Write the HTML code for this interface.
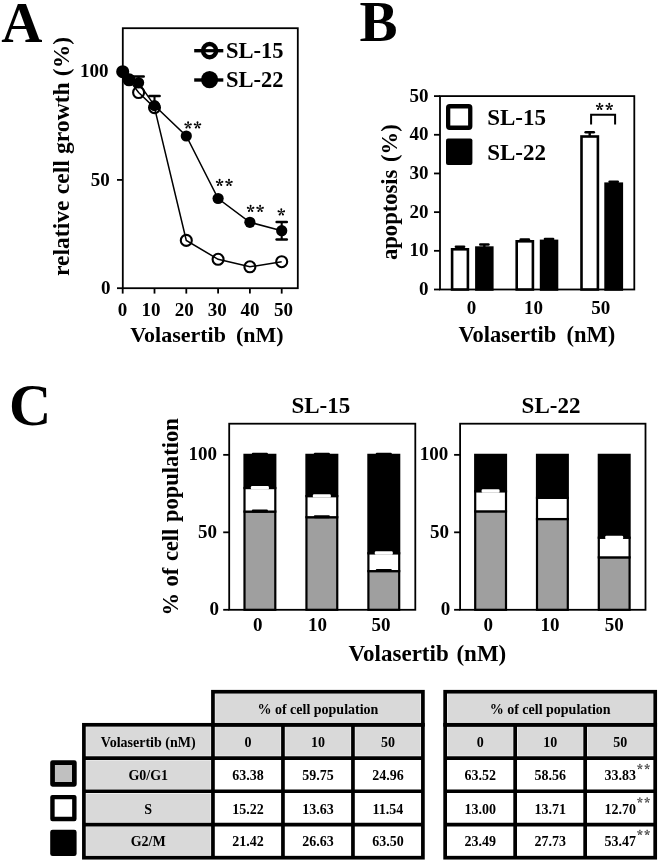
<!DOCTYPE html>
<html><head><meta charset="utf-8"><style>
html,body{margin:0;padding:0;background:#fff;overflow:hidden;}
svg{display:block;font-family:"Liberation Serif", serif;will-change:transform;}
</style></head><body>
<svg width="660" height="866" viewBox="0 0 660 866" font-family='"Liberation Serif", serif'>
<rect width="660" height="866" fill="#fff"/>
<text x="1.2" y="41.6" font-size="57" text-anchor="start" font-weight="bold" >A</text>
<rect x="122.8" y="28.2" width="175.0" height="260.0" fill="none" stroke="#000" stroke-width="1.8" rx="0" />
<line x1="117" y1="288.2" x2="122.8" y2="288.2" stroke="#000" stroke-width="1.8"/>
<text x="110.4" y="293.8" font-size="19" text-anchor="end" font-weight="bold" >0</text>
<line x1="117" y1="179.90" x2="122.8" y2="179.90" stroke="#000" stroke-width="1.8"/>
<text x="109.7" y="185.50" font-size="19" text-anchor="end" font-weight="bold" >50</text>
<line x1="117" y1="71.6" x2="122.8" y2="71.6" stroke="#000" stroke-width="1.8"/>
<text x="108.6" y="77.20" font-size="19" text-anchor="end" font-weight="bold" >100</text>
<line x1="122.7" y1="288.2" x2="122.7" y2="293.6" stroke="#000" stroke-width="1.8"/>
<text x="122.6" y="315.6" font-size="19" text-anchor="middle" font-weight="bold" >0</text>
<line x1="154.5" y1="288.2" x2="154.5" y2="293.6" stroke="#000" stroke-width="1.8"/>
<text x="151.1" y="315.6" font-size="19" text-anchor="middle" font-weight="bold" >10</text>
<line x1="186.3" y1="288.2" x2="186.3" y2="293.6" stroke="#000" stroke-width="1.8"/>
<text x="184.2" y="315.6" font-size="19" text-anchor="middle" font-weight="bold" >20</text>
<line x1="218.10" y1="288.2" x2="218.10" y2="293.6" stroke="#000" stroke-width="1.8"/>
<text x="217.2" y="315.6" font-size="19" text-anchor="middle" font-weight="bold" >30</text>
<line x1="249.9" y1="288.2" x2="249.9" y2="293.6" stroke="#000" stroke-width="1.8"/>
<text x="249.9" y="315.6" font-size="19" text-anchor="middle" font-weight="bold" >40</text>
<line x1="281.7" y1="288.2" x2="281.7" y2="293.6" stroke="#000" stroke-width="1.8"/>
<text x="283.6" y="315.6" font-size="19" text-anchor="middle" font-weight="bold" >50</text>
<text x="130.2" y="341.5" font-size="22" text-anchor="start" font-weight="bold" word-spacing="4.5">Volasertib (nM)</text>
<text x="68.7" y="276" font-size="23.6" text-anchor="start" font-weight="bold" transform="rotate(-90 68.7 276)" word-spacing="0.3">relative cell growth (%)</text>
<line x1="138.6" y1="76.4" x2="138.6" y2="82.8" stroke="#000" stroke-width="2.1"/>
<line x1="133.50" y1="76.4" x2="143.70" y2="76.4" stroke="#000" stroke-width="2.5" stroke-linecap="round"/>
<line x1="154.5" y1="95.9" x2="154.5" y2="105.6" stroke="#000" stroke-width="2.1"/>
<line x1="149.40" y1="95.9" x2="159.60" y2="95.9" stroke="#000" stroke-width="2.5" stroke-linecap="round"/>
<line x1="281.7" y1="222.0" x2="281.7" y2="239.4" stroke="#000" stroke-width="2.1"/>
<line x1="276.60" y1="222.0" x2="286.80" y2="222.0" stroke="#000" stroke-width="2.5" stroke-linecap="round"/>
<line x1="276.60" y1="239.4" x2="286.80" y2="239.4" stroke="#000" stroke-width="2.5" stroke-linecap="round"/>
<circle cx="122.7" cy="71.7" r="5.5" fill="#fff" stroke="#000" stroke-width="2.1"/>
<circle cx="129.06" cy="79.8" r="5.5" fill="#fff" stroke="#000" stroke-width="2.1"/>
<circle cx="138.6" cy="92.5" r="5.5" fill="#fff" stroke="#000" stroke-width="2.1"/>
<circle cx="154.5" cy="107.6" r="5.5" fill="#fff" stroke="#000" stroke-width="2.1"/>
<circle cx="186.3" cy="240.4" r="5.5" fill="#fff" stroke="#000" stroke-width="2.1"/>
<circle cx="218.10" cy="259.3" r="5.5" fill="#fff" stroke="#000" stroke-width="2.1"/>
<circle cx="249.9" cy="266.8" r="5.5" fill="#fff" stroke="#000" stroke-width="2.1"/>
<circle cx="281.7" cy="261.7" r="5.5" fill="#fff" stroke="#000" stroke-width="2.1"/>
<polyline points="122.70,71.7 129.06,79.8 138.60,92.5 154.50,107.6 186.30,240.4 218.10,259.3 249.90,266.8 281.70,261.7" fill="none" stroke="#000" stroke-width="1.5"/>
<polyline points="122.70,71.7 129.06,79.8 138.60,82.8 154.50,105.6 186.30,136.0 218.10,198.5 249.90,222.3 281.70,230.7" fill="none" stroke="#000" stroke-width="1.5"/>
<circle cx="122.7" cy="71.7" r="5.6" fill="#000" stroke="none" stroke-width="0"/>
<circle cx="129.06" cy="79.8" r="5.6" fill="#000" stroke="none" stroke-width="0"/>
<circle cx="138.6" cy="82.8" r="5.6" fill="#000" stroke="none" stroke-width="0"/>
<circle cx="154.5" cy="105.6" r="5.6" fill="#000" stroke="none" stroke-width="0"/>
<circle cx="186.3" cy="136.0" r="5.6" fill="#000" stroke="none" stroke-width="0"/>
<circle cx="218.10" cy="198.5" r="5.6" fill="#000" stroke="none" stroke-width="0"/>
<circle cx="249.9" cy="222.3" r="5.6" fill="#000" stroke="none" stroke-width="0"/>
<circle cx="281.7" cy="230.7" r="5.6" fill="#000" stroke="none" stroke-width="0"/>
<g transform="translate(188.1,125.2) scale(1.1)" fill="#000"><path d="M-0.22,0 L-0.72,-2.05 A0.92,0.92 0 1 1 0.72,-2.05 L0.22,0 Z" transform="rotate(0)"/><path d="M-0.22,0 L-0.72,-2.05 A0.92,0.92 0 1 1 0.72,-2.05 L0.22,0 Z" transform="rotate(72)"/><path d="M-0.22,0 L-0.72,-2.05 A0.92,0.92 0 1 1 0.72,-2.05 L0.22,0 Z" transform="rotate(144)"/><path d="M-0.22,0 L-0.72,-2.05 A0.92,0.92 0 1 1 0.72,-2.05 L0.22,0 Z" transform="rotate(216)"/><path d="M-0.22,0 L-0.72,-2.05 A0.92,0.92 0 1 1 0.72,-2.05 L0.22,0 Z" transform="rotate(288)"/></g>
<g transform="translate(197.5,125.2) scale(1.1)" fill="#000"><path d="M-0.22,0 L-0.72,-2.05 A0.92,0.92 0 1 1 0.72,-2.05 L0.22,0 Z" transform="rotate(0)"/><path d="M-0.22,0 L-0.72,-2.05 A0.92,0.92 0 1 1 0.72,-2.05 L0.22,0 Z" transform="rotate(72)"/><path d="M-0.22,0 L-0.72,-2.05 A0.92,0.92 0 1 1 0.72,-2.05 L0.22,0 Z" transform="rotate(144)"/><path d="M-0.22,0 L-0.72,-2.05 A0.92,0.92 0 1 1 0.72,-2.05 L0.22,0 Z" transform="rotate(216)"/><path d="M-0.22,0 L-0.72,-2.05 A0.92,0.92 0 1 1 0.72,-2.05 L0.22,0 Z" transform="rotate(288)"/></g>
<g transform="translate(219.6,182.7) scale(1.1)" fill="#000"><path d="M-0.22,0 L-0.72,-2.05 A0.92,0.92 0 1 1 0.72,-2.05 L0.22,0 Z" transform="rotate(0)"/><path d="M-0.22,0 L-0.72,-2.05 A0.92,0.92 0 1 1 0.72,-2.05 L0.22,0 Z" transform="rotate(72)"/><path d="M-0.22,0 L-0.72,-2.05 A0.92,0.92 0 1 1 0.72,-2.05 L0.22,0 Z" transform="rotate(144)"/><path d="M-0.22,0 L-0.72,-2.05 A0.92,0.92 0 1 1 0.72,-2.05 L0.22,0 Z" transform="rotate(216)"/><path d="M-0.22,0 L-0.72,-2.05 A0.92,0.92 0 1 1 0.72,-2.05 L0.22,0 Z" transform="rotate(288)"/></g>
<g transform="translate(229.0,182.7) scale(1.1)" fill="#000"><path d="M-0.22,0 L-0.72,-2.05 A0.92,0.92 0 1 1 0.72,-2.05 L0.22,0 Z" transform="rotate(0)"/><path d="M-0.22,0 L-0.72,-2.05 A0.92,0.92 0 1 1 0.72,-2.05 L0.22,0 Z" transform="rotate(72)"/><path d="M-0.22,0 L-0.72,-2.05 A0.92,0.92 0 1 1 0.72,-2.05 L0.22,0 Z" transform="rotate(144)"/><path d="M-0.22,0 L-0.72,-2.05 A0.92,0.92 0 1 1 0.72,-2.05 L0.22,0 Z" transform="rotate(216)"/><path d="M-0.22,0 L-0.72,-2.05 A0.92,0.92 0 1 1 0.72,-2.05 L0.22,0 Z" transform="rotate(288)"/></g>
<g transform="translate(250.6,208.6) scale(1.1)" fill="#000"><path d="M-0.22,0 L-0.72,-2.05 A0.92,0.92 0 1 1 0.72,-2.05 L0.22,0 Z" transform="rotate(0)"/><path d="M-0.22,0 L-0.72,-2.05 A0.92,0.92 0 1 1 0.72,-2.05 L0.22,0 Z" transform="rotate(72)"/><path d="M-0.22,0 L-0.72,-2.05 A0.92,0.92 0 1 1 0.72,-2.05 L0.22,0 Z" transform="rotate(144)"/><path d="M-0.22,0 L-0.72,-2.05 A0.92,0.92 0 1 1 0.72,-2.05 L0.22,0 Z" transform="rotate(216)"/><path d="M-0.22,0 L-0.72,-2.05 A0.92,0.92 0 1 1 0.72,-2.05 L0.22,0 Z" transform="rotate(288)"/></g>
<g transform="translate(260.1,208.6) scale(1.1)" fill="#000"><path d="M-0.22,0 L-0.72,-2.05 A0.92,0.92 0 1 1 0.72,-2.05 L0.22,0 Z" transform="rotate(0)"/><path d="M-0.22,0 L-0.72,-2.05 A0.92,0.92 0 1 1 0.72,-2.05 L0.22,0 Z" transform="rotate(72)"/><path d="M-0.22,0 L-0.72,-2.05 A0.92,0.92 0 1 1 0.72,-2.05 L0.22,0 Z" transform="rotate(144)"/><path d="M-0.22,0 L-0.72,-2.05 A0.92,0.92 0 1 1 0.72,-2.05 L0.22,0 Z" transform="rotate(216)"/><path d="M-0.22,0 L-0.72,-2.05 A0.92,0.92 0 1 1 0.72,-2.05 L0.22,0 Z" transform="rotate(288)"/></g>
<g transform="translate(281.3,212.1) scale(1.1)" fill="#000"><path d="M-0.22,0 L-0.72,-2.05 A0.92,0.92 0 1 1 0.72,-2.05 L0.22,0 Z" transform="rotate(0)"/><path d="M-0.22,0 L-0.72,-2.05 A0.92,0.92 0 1 1 0.72,-2.05 L0.22,0 Z" transform="rotate(72)"/><path d="M-0.22,0 L-0.72,-2.05 A0.92,0.92 0 1 1 0.72,-2.05 L0.22,0 Z" transform="rotate(144)"/><path d="M-0.22,0 L-0.72,-2.05 A0.92,0.92 0 1 1 0.72,-2.05 L0.22,0 Z" transform="rotate(216)"/><path d="M-0.22,0 L-0.72,-2.05 A0.92,0.92 0 1 1 0.72,-2.05 L0.22,0 Z" transform="rotate(288)"/></g>
<line x1="194.2" y1="50.7" x2="223.3" y2="50.7" stroke="#000" stroke-width="3.4"/>
<circle cx="209.6" cy="50.6" r="6.6" fill="#fff" stroke="#000" stroke-width="4.4"/>
<line x1="204.6" y1="50.7" x2="214.6" y2="50.7" stroke="#000" stroke-width="3.2"/>
<text x="226" y="58.2" font-size="22.5" text-anchor="start" font-weight="bold" >SL-15</text>
<line x1="194.2" y1="80" x2="223.3" y2="80" stroke="#000" stroke-width="3.4"/>
<circle cx="209.6" cy="79.6" r="8.6" fill="#000" stroke="none" stroke-width="0"/>
<text x="226" y="86.7" font-size="22.5" text-anchor="start" font-weight="bold" >SL-22</text>
<text x="359.6" y="40.8" font-size="57" text-anchor="start" font-weight="bold" >B</text>
<rect x="440.0" y="96.1" width="194.30" height="193.4" fill="none" stroke="#000" stroke-width="1.8" rx="0" />
<line x1="434" y1="289.5" x2="440.0" y2="289.5" stroke="#000" stroke-width="1.8"/>
<text x="428.6" y="295.1" font-size="19" text-anchor="end" font-weight="bold" >0</text>
<line x1="434" y1="250.82" x2="440.0" y2="250.82" stroke="#000" stroke-width="1.8"/>
<text x="428.6" y="256.42" font-size="19" text-anchor="end" font-weight="bold" >10</text>
<line x1="434" y1="212.14" x2="440.0" y2="212.14" stroke="#000" stroke-width="1.8"/>
<text x="428.6" y="217.74" font-size="19" text-anchor="end" font-weight="bold" >20</text>
<line x1="434" y1="173.46" x2="440.0" y2="173.46" stroke="#000" stroke-width="1.8"/>
<text x="428.6" y="179.06" font-size="19" text-anchor="end" font-weight="bold" >30</text>
<line x1="434" y1="134.78" x2="440.0" y2="134.78" stroke="#000" stroke-width="1.8"/>
<text x="428.6" y="140.38" font-size="19" text-anchor="end" font-weight="bold" >40</text>
<line x1="434" y1="96.1" x2="440.0" y2="96.1" stroke="#000" stroke-width="1.8"/>
<text x="428.6" y="101.70" font-size="19" text-anchor="end" font-weight="bold" >50</text>
<line x1="460.0" y1="246.85" x2="460.0" y2="249.0" stroke="#000" stroke-width="2.4"/>
<line x1="455.90" y1="246.85" x2="464.10" y2="246.85" stroke="#000" stroke-width="2.5" stroke-linecap="round"/>
<rect x="452.1" y="249.3" width="15.80" height="40.2" fill="#fff" stroke="#000" stroke-width="2.6" rx="0" />
<line x1="484.35" y1="244.45" x2="484.35" y2="247.3" stroke="#000" stroke-width="2.4"/>
<line x1="480.25" y1="244.45" x2="488.45" y2="244.45" stroke="#000" stroke-width="2.5" stroke-linecap="round"/>
<rect x="476.40" y="247.60" width="15.9" height="41.90" fill="#000" stroke="#000" stroke-width="2.6" rx="0" />
<line x1="524.8" y1="239.4" x2="524.8" y2="241.0" stroke="#000" stroke-width="2.4"/>
<line x1="520.70" y1="239.4" x2="528.90" y2="239.4" stroke="#000" stroke-width="2.5" stroke-linecap="round"/>
<rect x="516.70" y="241.3" width="16.20" height="48.2" fill="#fff" stroke="#000" stroke-width="2.6" rx="0" />
<line x1="549.05" y1="239.1" x2="549.05" y2="240.6" stroke="#000" stroke-width="2.4"/>
<line x1="544.95" y1="239.1" x2="553.15" y2="239.1" stroke="#000" stroke-width="2.5" stroke-linecap="round"/>
<rect x="541.10" y="240.9" width="15.9" height="48.60" fill="#000" stroke="#000" stroke-width="2.6" rx="0" />
<line x1="589.7" y1="132.25" x2="589.7" y2="136.2" stroke="#000" stroke-width="2.4"/>
<line x1="585.60" y1="132.25" x2="593.80" y2="132.25" stroke="#000" stroke-width="2.5" stroke-linecap="round"/>
<rect x="581.5" y="136.5" width="16.4" height="153.0" fill="#fff" stroke="#000" stroke-width="2.6" rx="0" />
<line x1="613.7" y1="181.7" x2="613.7" y2="183.4" stroke="#000" stroke-width="2.4"/>
<line x1="609.60" y1="181.7" x2="617.80" y2="181.7" stroke="#000" stroke-width="2.5" stroke-linecap="round"/>
<rect x="605.60" y="183.70" width="16.20" height="105.8" fill="#000" stroke="#000" stroke-width="2.6" rx="0" />
<path d="M591.1,124.4 V114.7 H615.1 V124.4" fill="none" stroke="#000" stroke-width="2.0" />
<g transform="translate(599.65,106.7) scale(1.1)" fill="#000"><path d="M-0.22,0 L-0.72,-2.05 A0.92,0.92 0 1 1 0.72,-2.05 L0.22,0 Z" transform="rotate(0)"/><path d="M-0.22,0 L-0.72,-2.05 A0.92,0.92 0 1 1 0.72,-2.05 L0.22,0 Z" transform="rotate(72)"/><path d="M-0.22,0 L-0.72,-2.05 A0.92,0.92 0 1 1 0.72,-2.05 L0.22,0 Z" transform="rotate(144)"/><path d="M-0.22,0 L-0.72,-2.05 A0.92,0.92 0 1 1 0.72,-2.05 L0.22,0 Z" transform="rotate(216)"/><path d="M-0.22,0 L-0.72,-2.05 A0.92,0.92 0 1 1 0.72,-2.05 L0.22,0 Z" transform="rotate(288)"/></g>
<g transform="translate(609.25,106.7) scale(1.1)" fill="#000"><path d="M-0.22,0 L-0.72,-2.05 A0.92,0.92 0 1 1 0.72,-2.05 L0.22,0 Z" transform="rotate(0)"/><path d="M-0.22,0 L-0.72,-2.05 A0.92,0.92 0 1 1 0.72,-2.05 L0.22,0 Z" transform="rotate(72)"/><path d="M-0.22,0 L-0.72,-2.05 A0.92,0.92 0 1 1 0.72,-2.05 L0.22,0 Z" transform="rotate(144)"/><path d="M-0.22,0 L-0.72,-2.05 A0.92,0.92 0 1 1 0.72,-2.05 L0.22,0 Z" transform="rotate(216)"/><path d="M-0.22,0 L-0.72,-2.05 A0.92,0.92 0 1 1 0.72,-2.05 L0.22,0 Z" transform="rotate(288)"/></g>
<rect x="448.15" y="106.25" width="22.1" height="21.5" fill="#fff" stroke="#000" stroke-width="4.3" rx="1.5" />
<rect x="446.0" y="138.6" width="26.4" height="26.4" fill="#000" stroke="#000" stroke-width="0" rx="2" />
<text x="487.2" y="125.4" font-size="23" text-anchor="start" font-weight="bold" >SL-15</text>
<text x="487.2" y="160.1" font-size="23" text-anchor="start" font-weight="bold" >SL-22</text>
<text x="471.5" y="313.6" font-size="19" text-anchor="middle" font-weight="bold" >0</text>
<text x="533.5" y="313.6" font-size="19" text-anchor="middle" font-weight="bold" >10</text>
<text x="600.8" y="313.6" font-size="19" text-anchor="middle" font-weight="bold" >50</text>
<text x="458.4" y="341.5" font-size="22.5" text-anchor="start" font-weight="bold" word-spacing="4.5">Volasertib (nM)</text>
<text x="396.9" y="260.0" font-size="22.6" text-anchor="start" font-weight="bold" transform="rotate(-90 396.9 260.0)" word-spacing="2">apoptosis (%)</text>
<text x="8.9" y="425.0" font-size="58.5" text-anchor="start" font-weight="bold" >C</text>
<rect x="229.2" y="423.7" width="186.10" height="186.10" fill="none" stroke="#000" stroke-width="1.8" rx="0" />
<line x1="223.2" y1="609.8" x2="229.2" y2="609.8" stroke="#000" stroke-width="1.8"/>
<text x="219.1" y="615.4" font-size="19" text-anchor="end" font-weight="bold" >0</text>
<line x1="223.2" y1="532.32" x2="229.2" y2="532.32" stroke="#000" stroke-width="1.8"/>
<text x="217.0" y="537.92" font-size="19" text-anchor="end" font-weight="bold" >50</text>
<line x1="223.2" y1="454.85" x2="229.2" y2="454.85" stroke="#000" stroke-width="1.8"/>
<text x="217.0" y="460.45" font-size="19" text-anchor="end" font-weight="bold" >100</text>
<rect x="244.50" y="511.59" width="30.8" height="98.21" fill="#9f9f9f" stroke="#000" stroke-width="2.2" rx="0" />
<rect x="244.50" y="488.01" width="30.8" height="23.58" fill="#fff" stroke="#000" stroke-width="2.2" rx="0" />
<rect x="244.50" y="454.85" width="30.8" height="33.16" fill="#000" stroke="#000" stroke-width="2.2" rx="0" />
<rect x="250.90" y="486.11" width="18.0" height="3.4" fill="#fff" stroke="#000" stroke-width="0" rx="1.2" />
<rect x="251.90" y="452.65" width="16.0" height="3.0" fill="#000" stroke="#000" stroke-width="0" rx="1.0" />
<rect x="251.90" y="509.59" width="16.0" height="3.0" fill="#000" stroke="#000" stroke-width="0" rx="1.0" />
<rect x="306.45" y="517.22" width="30.8" height="92.58" fill="#9f9f9f" stroke="#000" stroke-width="2.2" rx="0" />
<rect x="306.45" y="496.10" width="30.8" height="21.12" fill="#fff" stroke="#000" stroke-width="2.2" rx="0" />
<rect x="306.45" y="454.85" width="30.8" height="41.25" fill="#000" stroke="#000" stroke-width="2.2" rx="0" />
<rect x="312.85" y="494.20" width="18.0" height="3.4" fill="#fff" stroke="#000" stroke-width="0" rx="1.2" />
<rect x="313.85" y="452.65" width="16.0" height="3.0" fill="#000" stroke="#000" stroke-width="0" rx="1.0" />
<rect x="313.85" y="515.22" width="16.0" height="3.0" fill="#000" stroke="#000" stroke-width="0" rx="1.0" />
<rect x="368.40" y="571.12" width="30.8" height="38.68" fill="#9f9f9f" stroke="#000" stroke-width="2.2" rx="0" />
<rect x="368.40" y="553.24" width="30.8" height="17.88" fill="#fff" stroke="#000" stroke-width="2.2" rx="0" />
<rect x="368.40" y="454.85" width="30.8" height="98.39" fill="#000" stroke="#000" stroke-width="2.2" rx="0" />
<rect x="374.8" y="551.34" width="18.0" height="3.4" fill="#fff" stroke="#000" stroke-width="0" rx="1.2" />
<rect x="375.8" y="452.65" width="16.0" height="3.0" fill="#000" stroke="#000" stroke-width="0" rx="1.0" />
<rect x="375.8" y="569.12" width="16.0" height="3.0" fill="#000" stroke="#000" stroke-width="0" rx="1.0" />
<text x="257.7" y="631.0" font-size="19" text-anchor="middle" font-weight="bold" >0</text>
<text x="317.5" y="631.0" font-size="19" text-anchor="middle" font-weight="bold" >10</text>
<text x="380.9" y="631.0" font-size="19" text-anchor="middle" font-weight="bold" >50</text>
<text x="320.8" y="413.2" font-size="23" text-anchor="middle" font-weight="bold" >SL-15</text>
<rect x="460.1" y="423.7" width="185.40" height="186.10" fill="none" stroke="#000" stroke-width="1.8" rx="0" />
<line x1="454.1" y1="609.8" x2="460.1" y2="609.8" stroke="#000" stroke-width="1.8"/>
<text x="450.3" y="615.4" font-size="19" text-anchor="end" font-weight="bold" >0</text>
<line x1="454.1" y1="532.32" x2="460.1" y2="532.32" stroke="#000" stroke-width="1.8"/>
<text x="449.0" y="537.92" font-size="19" text-anchor="end" font-weight="bold" >50</text>
<line x1="454.1" y1="454.85" x2="460.1" y2="454.85" stroke="#000" stroke-width="1.8"/>
<text x="448.3" y="460.45" font-size="19" text-anchor="end" font-weight="bold" >100</text>
<rect x="475.20" y="511.38" width="30.8" height="98.42" fill="#9f9f9f" stroke="#000" stroke-width="2.2" rx="0" />
<rect x="475.20" y="491.23" width="30.8" height="20.14" fill="#fff" stroke="#000" stroke-width="2.2" rx="0" />
<rect x="475.20" y="454.85" width="30.8" height="36.38" fill="#000" stroke="#000" stroke-width="2.2" rx="0" />
<rect x="481.6" y="489.33" width="18.0" height="3.4" fill="#fff" stroke="#000" stroke-width="0" rx="1.2" />
<rect x="537.0" y="519.06" width="30.8" height="90.74" fill="#9f9f9f" stroke="#000" stroke-width="2.2" rx="0" />
<rect x="537.0" y="497.82" width="30.8" height="21.24" fill="#fff" stroke="#000" stroke-width="2.2" rx="0" />
<rect x="537.0" y="454.85" width="30.8" height="42.97" fill="#000" stroke="#000" stroke-width="2.2" rx="0" />
<rect x="598.80" y="557.38" width="30.8" height="52.42" fill="#9f9f9f" stroke="#000" stroke-width="2.2" rx="0" />
<rect x="598.80" y="537.70" width="30.8" height="19.68" fill="#fff" stroke="#000" stroke-width="2.2" rx="0" />
<rect x="598.80" y="454.85" width="30.8" height="82.85" fill="#000" stroke="#000" stroke-width="2.2" rx="0" />
<rect x="605.2" y="535.80" width="18.0" height="3.4" fill="#fff" stroke="#000" stroke-width="0" rx="1.2" />
<text x="488.3" y="631.0" font-size="19" text-anchor="middle" font-weight="bold" >0</text>
<text x="550" y="631.0" font-size="19" text-anchor="middle" font-weight="bold" >10</text>
<text x="614.2" y="631.0" font-size="19" text-anchor="middle" font-weight="bold" >50</text>
<text x="551" y="413.2" font-size="23" text-anchor="middle" font-weight="bold" >SL-22</text>
<text x="348.6" y="660.6" font-size="23" text-anchor="start" font-weight="bold" word-spacing="2">Volasertib (nM)</text>
<text x="177.6" y="615.6" font-size="22.5" text-anchor="start" font-weight="bold" transform="rotate(-90 177.6 615.6)" word-spacing="1">% of cell population</text>
<rect x="52.55" y="762.55" width="21.8" height="21.8" fill="#c0c0c0" stroke="#000" stroke-width="4.7" rx="0" stroke-linejoin="round"/>
<rect x="52.45" y="797.1" width="21.9" height="21.9" fill="#fff" stroke="#000" stroke-width="4.4" rx="0" stroke-linejoin="round"/>
<rect x="50.2" y="829.7" width="26.4" height="26.4" fill="#000" stroke="#000" stroke-width="0" rx="2.4" />
<rect x="215.25" y="694.05" width="205.35" height="28.45" fill="#d9d9d9"/>
<rect x="86.20" y="727.10" width="124.45" height="28.65" fill="#d9d9d9"/>
<rect x="215.25" y="727.10" width="65.40" height="28.65" fill="#d9d9d9"/>
<rect x="285.25" y="727.10" width="65.40" height="28.65" fill="#d9d9d9"/>
<rect x="355.25" y="727.10" width="65.35" height="28.65" fill="#d9d9d9"/>
<rect x="86.20" y="760.35" width="124.45" height="28.60" fill="#d9d9d9"/>
<rect x="86.20" y="793.55" width="124.45" height="28.70" fill="#d9d9d9"/>
<rect x="86.20" y="826.85" width="124.45" height="28.55" fill="#d9d9d9"/>
<line x1="83.9" y1="758.05" x2="422.9" y2="758.05" stroke="#000" stroke-width="3.7"/>
<line x1="83.9" y1="791.25" x2="422.9" y2="791.25" stroke="#000" stroke-width="3.7"/>
<line x1="83.9" y1="824.55" x2="422.9" y2="824.55" stroke="#000" stroke-width="3.7"/>
<line x1="212.95" y1="724.8" x2="212.95" y2="857.7" stroke="#000" stroke-width="3.7"/>
<line x1="282.95" y1="724.8" x2="282.95" y2="857.7" stroke="#000" stroke-width="3.7"/>
<line x1="352.95" y1="724.8" x2="352.95" y2="857.7" stroke="#000" stroke-width="3.7"/>
<rect x="83.9" y="724.8" width="339.0" height="132.90" fill="none" stroke="#000" stroke-width="3.7" rx="0" stroke-linejoin="miter"/>
<rect x="212.95" y="691.75" width="209.95" height="33.05" fill="none" stroke="#000" stroke-width="3.7" rx="0" />
<text x="317.92" y="713.6" font-size="14" text-anchor="middle" font-weight="bold" >% of cell population</text>
<text x="148.23" y="746.6" font-size="14" text-anchor="middle" font-weight="bold" >Volasertib (nM)</text>
<text x="148.23" y="780.1" font-size="14" text-anchor="middle" font-weight="bold" >G0/G1</text>
<text x="148.23" y="813.6" font-size="14" text-anchor="middle" font-weight="bold" >S</text>
<text x="148.23" y="845.9" font-size="14" text-anchor="middle" font-weight="bold" >G2/M</text>
<text x="247.95" y="746.6" font-size="14" text-anchor="middle" font-weight="bold" >0</text>
<text x="247.95" y="780.1" font-size="14" text-anchor="middle" font-weight="bold" >63.38</text>
<text x="247.95" y="813.6" font-size="14" text-anchor="middle" font-weight="bold" >15.22</text>
<text x="247.95" y="845.9" font-size="14" text-anchor="middle" font-weight="bold" >21.42</text>
<text x="317.95" y="746.6" font-size="14" text-anchor="middle" font-weight="bold" >10</text>
<text x="317.95" y="780.1" font-size="14" text-anchor="middle" font-weight="bold" >59.75</text>
<text x="317.95" y="813.6" font-size="14" text-anchor="middle" font-weight="bold" >13.63</text>
<text x="317.95" y="845.9" font-size="14" text-anchor="middle" font-weight="bold" >26.63</text>
<text x="387.92" y="746.6" font-size="14" text-anchor="middle" font-weight="bold" >50</text>
<text x="387.92" y="780.1" font-size="14" text-anchor="middle" font-weight="bold" >24.96</text>
<text x="387.92" y="813.6" font-size="14" text-anchor="middle" font-weight="bold" >11.54</text>
<text x="387.92" y="845.9" font-size="14" text-anchor="middle" font-weight="bold" >63.50</text>
<rect x="447.45" y="694.05" width="205.45" height="28.45" fill="#d9d9d9"/>
<rect x="447.45" y="727.10" width="65.40" height="28.65" fill="#d9d9d9"/>
<rect x="517.45" y="727.10" width="65.40" height="28.65" fill="#d9d9d9"/>
<rect x="587.45" y="727.10" width="65.45" height="28.65" fill="#d9d9d9"/>
<line x1="445.15" y1="758.05" x2="655.2" y2="758.05" stroke="#000" stroke-width="3.7"/>
<line x1="445.15" y1="791.25" x2="655.2" y2="791.25" stroke="#000" stroke-width="3.7"/>
<line x1="445.15" y1="824.55" x2="655.2" y2="824.55" stroke="#000" stroke-width="3.7"/>
<line x1="515.15" y1="724.8" x2="515.15" y2="857.7" stroke="#000" stroke-width="3.7"/>
<line x1="585.15" y1="724.8" x2="585.15" y2="857.7" stroke="#000" stroke-width="3.7"/>
<rect x="445.15" y="724.8" width="210.05" height="132.90" fill="none" stroke="#000" stroke-width="3.7" rx="0" stroke-linejoin="miter"/>
<rect x="445.15" y="691.75" width="210.05" height="33.05" fill="none" stroke="#000" stroke-width="3.7" rx="0" />
<text x="550.17" y="713.6" font-size="14" text-anchor="middle" font-weight="bold" >% of cell population</text>
<text x="480.15" y="746.6" font-size="14" text-anchor="middle" font-weight="bold" >0</text>
<text x="480.15" y="780.1" font-size="14" text-anchor="middle" font-weight="bold" >63.52</text>
<text x="480.15" y="813.6" font-size="14" text-anchor="middle" font-weight="bold" >13.00</text>
<text x="480.15" y="845.9" font-size="14" text-anchor="middle" font-weight="bold" >23.49</text>
<text x="550.15" y="746.6" font-size="14" text-anchor="middle" font-weight="bold" >10</text>
<text x="550.15" y="780.1" font-size="14" text-anchor="middle" font-weight="bold" >58.56</text>
<text x="550.15" y="813.6" font-size="14" text-anchor="middle" font-weight="bold" >13.71</text>
<text x="550.15" y="845.9" font-size="14" text-anchor="middle" font-weight="bold" >27.73</text>
<text x="620.17" y="746.6" font-size="14" text-anchor="middle" font-weight="bold" >50</text>
<text x="620.17" y="780.1" font-size="14" text-anchor="middle" font-weight="bold" >33.83</text>
<g transform="translate(639.9,766.7) scale(0.8)" fill="#333"><path d="M-0.22,0 L-0.72,-2.05 A0.92,0.92 0 1 1 0.72,-2.05 L0.22,0 Z" transform="rotate(0)"/><path d="M-0.22,0 L-0.72,-2.05 A0.92,0.92 0 1 1 0.72,-2.05 L0.22,0 Z" transform="rotate(72)"/><path d="M-0.22,0 L-0.72,-2.05 A0.92,0.92 0 1 1 0.72,-2.05 L0.22,0 Z" transform="rotate(144)"/><path d="M-0.22,0 L-0.72,-2.05 A0.92,0.92 0 1 1 0.72,-2.05 L0.22,0 Z" transform="rotate(216)"/><path d="M-0.22,0 L-0.72,-2.05 A0.92,0.92 0 1 1 0.72,-2.05 L0.22,0 Z" transform="rotate(288)"/></g>
<g transform="translate(647.15,766.7) scale(0.8)" fill="#333"><path d="M-0.22,0 L-0.72,-2.05 A0.92,0.92 0 1 1 0.72,-2.05 L0.22,0 Z" transform="rotate(0)"/><path d="M-0.22,0 L-0.72,-2.05 A0.92,0.92 0 1 1 0.72,-2.05 L0.22,0 Z" transform="rotate(72)"/><path d="M-0.22,0 L-0.72,-2.05 A0.92,0.92 0 1 1 0.72,-2.05 L0.22,0 Z" transform="rotate(144)"/><path d="M-0.22,0 L-0.72,-2.05 A0.92,0.92 0 1 1 0.72,-2.05 L0.22,0 Z" transform="rotate(216)"/><path d="M-0.22,0 L-0.72,-2.05 A0.92,0.92 0 1 1 0.72,-2.05 L0.22,0 Z" transform="rotate(288)"/></g>
<text x="620.17" y="813.6" font-size="14" text-anchor="middle" font-weight="bold" >12.70</text>
<g transform="translate(639.9,800.2) scale(0.8)" fill="#333"><path d="M-0.22,0 L-0.72,-2.05 A0.92,0.92 0 1 1 0.72,-2.05 L0.22,0 Z" transform="rotate(0)"/><path d="M-0.22,0 L-0.72,-2.05 A0.92,0.92 0 1 1 0.72,-2.05 L0.22,0 Z" transform="rotate(72)"/><path d="M-0.22,0 L-0.72,-2.05 A0.92,0.92 0 1 1 0.72,-2.05 L0.22,0 Z" transform="rotate(144)"/><path d="M-0.22,0 L-0.72,-2.05 A0.92,0.92 0 1 1 0.72,-2.05 L0.22,0 Z" transform="rotate(216)"/><path d="M-0.22,0 L-0.72,-2.05 A0.92,0.92 0 1 1 0.72,-2.05 L0.22,0 Z" transform="rotate(288)"/></g>
<g transform="translate(647.15,800.2) scale(0.8)" fill="#333"><path d="M-0.22,0 L-0.72,-2.05 A0.92,0.92 0 1 1 0.72,-2.05 L0.22,0 Z" transform="rotate(0)"/><path d="M-0.22,0 L-0.72,-2.05 A0.92,0.92 0 1 1 0.72,-2.05 L0.22,0 Z" transform="rotate(72)"/><path d="M-0.22,0 L-0.72,-2.05 A0.92,0.92 0 1 1 0.72,-2.05 L0.22,0 Z" transform="rotate(144)"/><path d="M-0.22,0 L-0.72,-2.05 A0.92,0.92 0 1 1 0.72,-2.05 L0.22,0 Z" transform="rotate(216)"/><path d="M-0.22,0 L-0.72,-2.05 A0.92,0.92 0 1 1 0.72,-2.05 L0.22,0 Z" transform="rotate(288)"/></g>
<text x="620.17" y="845.9" font-size="14" text-anchor="middle" font-weight="bold" >53.47</text>
<g transform="translate(639.9,832.5) scale(0.8)" fill="#333"><path d="M-0.22,0 L-0.72,-2.05 A0.92,0.92 0 1 1 0.72,-2.05 L0.22,0 Z" transform="rotate(0)"/><path d="M-0.22,0 L-0.72,-2.05 A0.92,0.92 0 1 1 0.72,-2.05 L0.22,0 Z" transform="rotate(72)"/><path d="M-0.22,0 L-0.72,-2.05 A0.92,0.92 0 1 1 0.72,-2.05 L0.22,0 Z" transform="rotate(144)"/><path d="M-0.22,0 L-0.72,-2.05 A0.92,0.92 0 1 1 0.72,-2.05 L0.22,0 Z" transform="rotate(216)"/><path d="M-0.22,0 L-0.72,-2.05 A0.92,0.92 0 1 1 0.72,-2.05 L0.22,0 Z" transform="rotate(288)"/></g>
<g transform="translate(647.15,832.5) scale(0.8)" fill="#333"><path d="M-0.22,0 L-0.72,-2.05 A0.92,0.92 0 1 1 0.72,-2.05 L0.22,0 Z" transform="rotate(0)"/><path d="M-0.22,0 L-0.72,-2.05 A0.92,0.92 0 1 1 0.72,-2.05 L0.22,0 Z" transform="rotate(72)"/><path d="M-0.22,0 L-0.72,-2.05 A0.92,0.92 0 1 1 0.72,-2.05 L0.22,0 Z" transform="rotate(144)"/><path d="M-0.22,0 L-0.72,-2.05 A0.92,0.92 0 1 1 0.72,-2.05 L0.22,0 Z" transform="rotate(216)"/><path d="M-0.22,0 L-0.72,-2.05 A0.92,0.92 0 1 1 0.72,-2.05 L0.22,0 Z" transform="rotate(288)"/></g>
</svg>
</body></html>
